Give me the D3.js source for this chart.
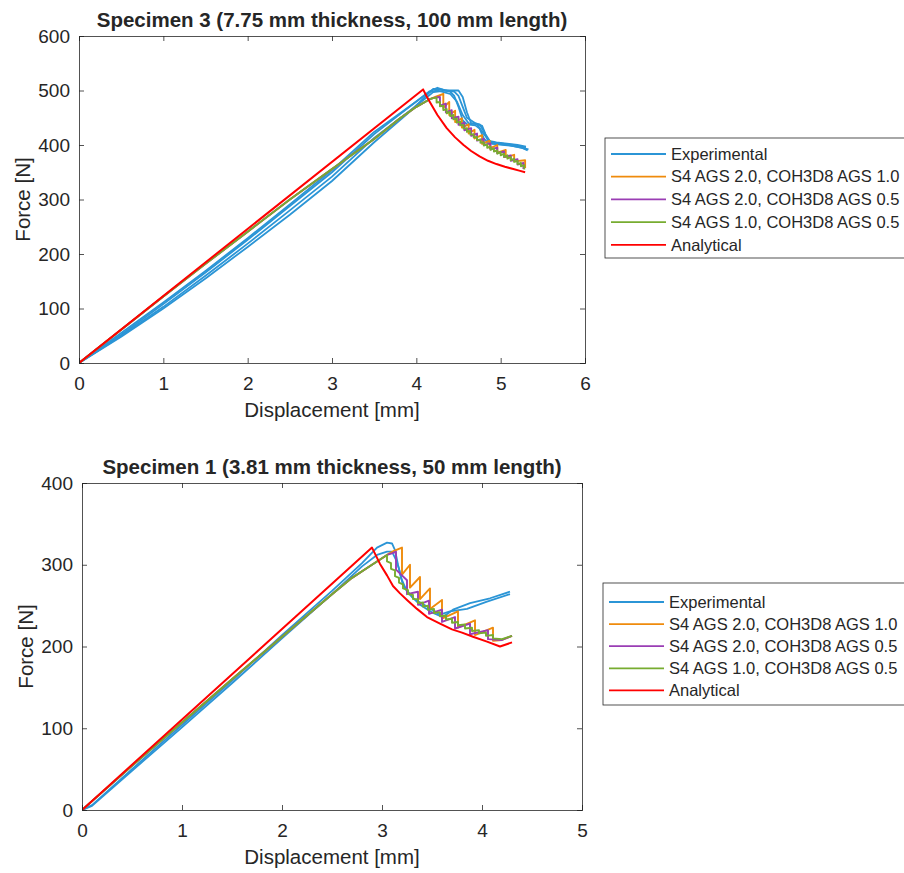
<!DOCTYPE html>
<html><head><meta charset="utf-8">
<script src="https://cdn.jsdelivr.net/npm/d3@7/dist/d3.min.js"></script>
<style>
body{margin:0;background:#fff;}
svg text{font-family:"Liberation Sans",Arial,Helvetica,sans-serif;fill:#262626;}
</style></head>
<body><svg id="c" width="904" height="873"></svg>
<script>
// ---------- DATA ----------
const seriesNames = ["Experimental","S4 AGS 2.0, COH3D8 AGS 1.0","S4 AGS 2.0, COH3D8 AGS 0.5","S4 AGS 1.0, COH3D8 AGS 0.5","Analytical"];
const seriesColors = ["#2b95d6","#ef8b0c","#9a3db4","#77ac30","#ff0000"];

// Specimen 3 (top)
const s3Title = "Specimen 3 (7.75 mm thickness, 100 mm length)";
const s3XTicks = [0,1,2,3,4,5,6];
const s3YTicks = [0,100,200,300,400,500,600];
const s3Exp = [
 [[0,0],[0.5,48],[1,100],[1.5,155],[2,213],[2.5,272],[3,334],[3.5,405],[3.9,458],[4.1,488],[4.2,503],[4.3,502],[4.4,498],[4.45,490],[4.5,470],[4.55,445],[4.6,438],[4.7,436],[4.75,430],[4.8,412],[4.85,404],[4.95,402],[5.05,400],[5.15,398],[5.25,395],[5.32,390]],
 [[0,0],[0.5,52],[1,108],[1.5,166],[2,226],[2.5,288],[3,350],[3.5,420],[3.9,468],[4.15,498],[4.25,505],[4.35,500],[4.5,500],[4.55,488],[4.6,460],[4.65,440],[4.75,438],[4.8,425],[4.85,408],[4.95,405],[5.1,402],[5.2,400],[5.3,397]],
 [[0,0],[0.5,50],[1,103],[1.5,160],[2,219],[2.5,280],[3,342],[3.5,413],[4.0,472],[4.2,497],[4.35,500],[4.45,498],[4.5,490],[4.55,470],[4.6,450],[4.7,440],[4.78,435],[4.82,420],[4.88,405],[5.0,403],[5.15,400],[5.3,395]],
 [[0,0],[0.5,55],[1,111],[1.5,169],[2,229],[2.5,291],[3,354],[3.5,424],[4.0,480],[4.15,497],[4.25,500],[4.4,494],[4.48,480],[4.55,455],[4.62,440],[4.72,438],[4.8,420],[4.9,402],[5.1,400],[5.33,392]]
];
const s3FEPre = [[0,0],[0.5,61],[1,122],[1.5,182],[2,241],[2.5,300],[3,356],[3.5,411],[3.8,448],[4.0,470],[4.16,484]];
const s3OrangeLead = [[4.24,489]];
const s3OrangeTeeth = [[4.32,494,468],[4.39,479,455],[4.46,463,442],[4.54,449,432],[4.62,438,421],[4.69,428,412],[4.78,418,402],[4.87,408,394],[4.96,400,386],[5.06,391,378],[5.16,382,370],[5.29,372,358]];
const s3OrangeTail = [];
const s3PurpleLead = [[4.22,487]];
const s3PurpleTeeth = [[4.28,488,472],[4.35,476,460],[4.42,464,449],[4.50,452,437],[4.57,441,427],[4.65,431,417],[4.72,421,408],[4.80,411,400],[4.88,403,392],[4.96,395,385],[5.04,388,378],[5.12,381,371],[5.20,374,364],[5.27,367,356]];
const s3PurpleTail = [];
const s3GreenLead = [[4.20,486]];
const s3GreenTeeth = [[4.24,487,478],[4.28,479,471],[4.32,472,464],[4.36,466,458],[4.40,461,453],[4.44,455,447],[4.48,449,441],[4.52,443,436],[4.56,437,430],[4.60,431,424],[4.64,426,419],[4.68,420,414],[4.72,415,409],[4.76,410,404],[4.80,405,399],[4.84,401,395],[4.88,397,391],[4.92,394,388],[4.96,390,384],[5.00,387,381],[5.04,384,378],[5.08,381,375],[5.12,378,372],[5.16,375,369],[5.20,371,365],[5.24,367,361],[5.28,363,355]];
const s3GreenTail = [];
const s3Analytical = [[0,0],[4.08,502],[4.12,490],[4.16,479],[4.25,455],[4.36,431],[4.46,414],[4.56,400],[4.65,389],[4.75,379],[4.85,371],[4.95,365],[5.05,360],[5.15,356],[5.22,353],[5.29,350]];

// Specimen 1 (bottom)
const s1Title = "Specimen 1 (3.81 mm thickness, 50 mm length)";
const s1XTicks = [0,1,2,3,4,5];
const s1YTicks = [0,100,200,300,400];
const s1Exp = [
 [[0,0],[0.1,6],[0.5,50],[1,104],[1.5,158],[2,214],[2.5,268],[2.8,302],[2.95,321],[3.05,327],[3.10,326],[3.13,318],[3.16,300],[3.19,284],[3.25,267],[3.38,251],[3.51,241],[3.61,236],[3.71,245],[3.88,253],[4.08,259],[4.28,267]],
 [[0,0],[0.1,5],[0.5,48],[1,101],[1.5,155],[2,210],[2.5,264],[2.8,298],[2.95,312],[3.05,316],[3.10,316],[3.14,306],[3.17,295],[3.21,275],[3.31,259],[3.45,249],[3.58,239],[3.68,243],[3.85,246],[4.05,255],[4.28,264]]
];
const s1FEPre = [[0,0],[0.5,54],[1,107],[1.5,160],[2,212],[2.3,243],[2.5,264],[2.7,284],[2.9,300],[3.05,312]];
const s1OrangeLead = [[3.12,317]];
const s1OrangeTeeth = [[3.20,321,288],[3.28,300,272],[3.38,285,258],[3.48,271,246],[3.60,257,234],[3.76,243,223],[3.93,232,214],[4.11,223,207]];
const s1OrangeTail = [[4.20,208],[4.30,213]];
const s1PurpleLead = [[3.10,314]];
const s1PurpleTeeth = [[3.14,316,294],[3.25,281,264],[3.36,267,251],[3.47,256,240],[3.60,245,230],[3.73,236,222],[3.88,228,215],[4.06,220,209]];
const s1PurpleTail = [[4.20,208],[4.30,213]];
const s1GreenLead = [];
const s1GreenTeeth = [[3.05,312,304],[3.09,302,295],[3.13,293,286],[3.17,284,278],[3.21,276,271],[3.26,269,264],[3.31,263,258],[3.36,258,253],[3.41,254,249],[3.46,250,245],[3.52,246,241],[3.58,242,237],[3.64,238,233],[3.70,234,229],[3.76,230,226],[3.83,227,222],[3.90,223,219],[3.97,220,216],[4.04,217,213],[4.11,214,210]];
const s1GreenTail = [[4.20,209],[4.30,213]];
const s1Analytical = [[0,0],[2.90,321],[2.98,301],[3.05,287],[3.11,274],[3.18,265],[3.25,257],[3.35,246],[3.45,236],[3.58,228],[3.70,221],[3.80,217],[3.91,212],[4.05,206],[4.18,200],[4.30,205]];

// ---------- BUILD ----------
function sawtooth(pre, lead, teeth, tail){
  const pts = pre.slice().concat(lead);
  teeth.forEach(t=>{pts.push([t[0],t[1]]);pts.push([t[0],t[2]]);});
  return pts.concat(tail);
}
const svg = d3.select("#c");
const FONT = "'Liberation Sans',Arial,Helvetica,sans-serif";

function drawChart(cfg){
  const g = svg.append("g");
  const x = d3.scaleLinear().domain(cfg.xDomain).range([cfg.left,cfg.right]);
  const y = d3.scaleLinear().domain(cfg.yDomain).range([cfg.bottom,cfg.top]);
  const line = d3.line().x(d=>x(d[0])).y(d=>y(d[1]));
  const clip = "clip"+cfg.id;
  svg.append("clipPath").attr("id",clip).append("rect")
    .attr("x",cfg.left).attr("y",cfg.top).attr("width",cfg.right-cfg.left).attr("height",cfg.bottom-cfg.top);
  g.append("rect").attr("x",cfg.left).attr("y",cfg.top).attr("width",cfg.right-cfg.left).attr("height",cfg.bottom-cfg.top).attr("fill","#fff");
  const lines = g.append("g").attr("clip-path",`url(#${clip})`);
  cfg.exp.forEach(s=>lines.append("path").attr("d",line(s)).attr("fill","none").attr("stroke",seriesColors[0]).attr("stroke-width",1.8).attr("stroke-linejoin","round"));
  cfg.fe.forEach((s,i)=>lines.append("path").attr("d",line(s)).attr("fill","none").attr("stroke",seriesColors[i+1]).attr("stroke-width",1.9).attr("stroke-linejoin","round"));
  lines.append("path").attr("d",line(cfg.analytical)).attr("fill","none").attr("stroke",seriesColors[4]).attr("stroke-width",2).attr("stroke-linejoin","round");

  const axCol = "#262626";
  const tl = 5;
  const xb = g.append("g").attr("transform",`translate(0,${cfg.bottom})`).call(d3.axisBottom(x).tickValues(cfg.xTicks).tickSize(-tl).tickPadding(14).tickFormat(d3.format("d")));
  const xt = g.append("g").attr("transform",`translate(0,${cfg.top})`).call(d3.axisTop(x).tickValues(cfg.xTicks).tickSize(-tl).tickFormat(""));
  const yl = g.append("g").attr("transform",`translate(${cfg.left},0)`).call(d3.axisLeft(y).tickValues(cfg.yTicks).tickSize(-tl).tickPadding(9).tickFormat(d3.format("d")));
  const yr = g.append("g").attr("transform",`translate(${cfg.right},0)`).call(d3.axisRight(y).tickValues(cfg.yTicks).tickSize(-tl).tickFormat(""));
  [xb,xt,yl,yr].forEach(a=>{
    a.select(".domain").attr("stroke",axCol).attr("stroke-width",0.8);
    a.selectAll(".tick line").attr("stroke",axCol).attr("stroke-width",0.8);
    a.selectAll("text").attr("fill",axCol).style("font-size","19px").style("font-family",FONT);
  });
  // titles
  g.append("text").attr("x",(cfg.left+cfg.right)/2).attr("y",cfg.top-9).attr("text-anchor","middle")
    .style("font-weight","bold").style("font-size","20.5px").attr("fill","#000").text(cfg.title);
  g.append("text").attr("x",(cfg.left+cfg.right)/2).attr("y",cfg.bottom+54).attr("text-anchor","middle")
    .style("font-size","20.5px").text("Displacement [mm]");
  g.append("text").attr("transform",`translate(${cfg.left-49},${(cfg.top+cfg.bottom)/2}) rotate(-90)`).attr("text-anchor","middle")
    .style("font-size","20.5px").text("Force [N]");
  // legend
  const lg = g.append("g");
  lg.append("rect").attr("x",cfg.legX).attr("y",cfg.legY).attr("width",400).attr("height",cfg.legH)
    .attr("fill","#fff").attr("stroke","#262626").attr("stroke-width",0.8);
  seriesNames.forEach((n,i)=>{
    const yy = cfg.legY + cfg.legRow0 + i*cfg.legStep;
    lg.append("line").attr("x1",cfg.legX+6).attr("x2",cfg.legX+61).attr("y1",yy).attr("y2",yy).attr("stroke",seriesColors[i]).attr("stroke-width",1.8);
    lg.append("text").attr("x",cfg.legX+66).attr("y",yy).attr("dy","0.35em").style("font-size","16.5px").attr("fill","#000").text(n);
  });
}

drawChart({id:"a",left:79,right:585,top:36,bottom:363,xDomain:[0,6],yDomain:[0,600],xTicks:s3XTicks,yTicks:s3YTicks,title:s3Title,
  exp:s3Exp,
  fe:[sawtooth(s3FEPre,s3OrangeLead,s3OrangeTeeth,s3OrangeTail),sawtooth(s3FEPre,s3PurpleLead,s3PurpleTeeth,s3PurpleTail),sawtooth(s3FEPre,s3GreenLead,s3GreenTeeth,s3GreenTail)],
  analytical:s3Analytical,legX:605,legY:138,legH:120,legRow0:16,legStep:22.7});
drawChart({id:"b",left:82,right:582,top:483,bottom:810,xDomain:[0,5],yDomain:[0,400],xTicks:s1XTicks,yTicks:s1YTicks,title:s1Title,
  exp:s1Exp,
  fe:[sawtooth(s1FEPre,s1OrangeLead,s1OrangeTeeth,s1OrangeTail),sawtooth(s1FEPre,s1PurpleLead,s1PurpleTeeth,s1PurpleTail),sawtooth(s1FEPre,s1GreenLead,s1GreenTeeth,s1GreenTail)],
  analytical:s1Analytical,legX:603,legY:583,legH:122,legRow0:19,legStep:22.1});
</script></body></html>
